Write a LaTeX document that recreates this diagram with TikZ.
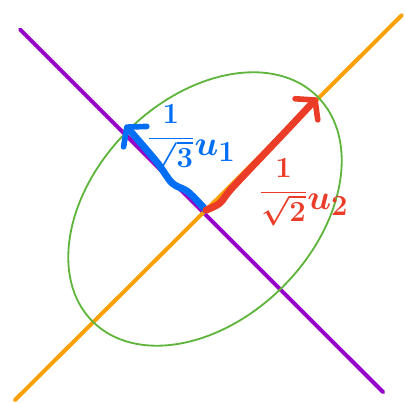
\documentclass[tikz,border=0pt]{standalone}
\usepackage{tikz}
\usetikzlibrary{arrows.meta,positioning}
\definecolor{EigPurple}{RGB}{150,0,200}
\definecolor{EigOrange}{RGB}{250,160,0}
\definecolor{EigGreen}{RGB}{95,180,60}
\definecolor{EigBlue}{RGB}{0,110,245}
\definecolor{EigRed}{RGB}{235,60,40}
\tikzset{
  eig/axis/.style={line width=2.8pt, line cap=round},
  eig/level/.style={draw=EigGreen, line width=1.3pt},
  eig/vec/.style={
    line width=5pt,
    line cap=round,
    line join=round,
    -{Straight Barb[length=9pt,width=22pt,line width=4pt,round]}
  },
  eig/label/.style={inner sep=0pt, font=\fontsize{21}{23}\selectfont\boldmath}
}
\newcommand{\eigvec}[1]{\raisebox{-7pt}{\fontsize{32}{34}\selectfont\boldmath$u_{#1}$}}

\begin{document}
\begin{tikzpicture}[x=1cm,y=1cm]
  \useasboundingbox (0,0) rectangle (10.125,10.075);
  % axes
  \coordinate (pA) at (0.5,9.34);
  \coordinate (pB) at (9.58,0.27);
  \coordinate (oA) at (0.37,0.07);
  \coordinate (oB) at (10.05,9.7);
  \draw[eig/axis,draw=EigPurple] (pA) -- (pB);
  \draw[eig/axis,draw=EigOrange] (oA) -- (oB);
  % level set
  \draw[eig/level,rotate around={45:(5.125,4.85)}] (5.125,4.85) ellipse (3.975 and 2.75);
  % scaled eigenvectors
  \coordinate (c) at (5.15,4.82);
  \coordinate (tipA) at (3.125,6.95);
  \coordinate (tipB) at (7.925,7.625);
  \draw[eig/vec,draw=EigBlue] plot[smooth] coordinates
    {(c) (4.7,5.28) (4.3,5.5) (3.9,6.05) (tipA)};
  \draw[eig/vec,draw=EigRed] plot[smooth] coordinates
    {(c) (5.5,5.0) (5.825,5.4) (7.175,6.825) (tipB)};
  \node[eig/label,text=EigBlue] (labA) at (4.78,6.62) {$\displaystyle\frac{1}{\sqrt{3}}$\eigvec{1}};
  \node[eig/label,text=EigRed] (labB) at (7.6,5.27) {$\displaystyle\frac{1}{\sqrt{2}}$\eigvec{2}};
\end{tikzpicture}
\end{document}
